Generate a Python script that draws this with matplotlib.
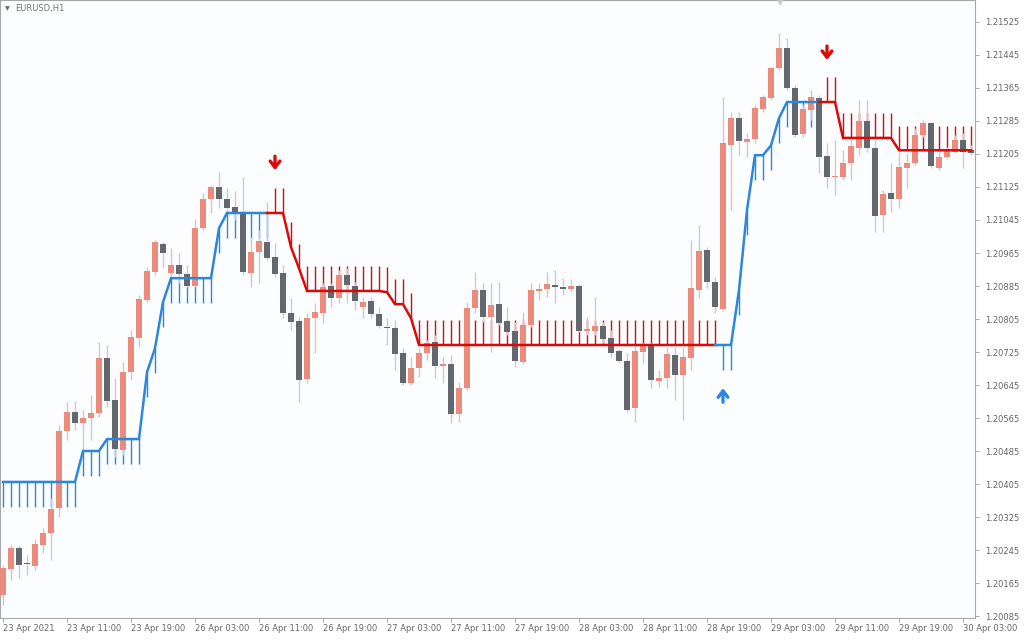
import matplotlib
matplotlib.use('Agg')
import matplotlib.pyplot as plt
import numpy as np

# EURUSD H1, 23 Apr 2021 03:00 -> 30 Apr 2021 04:00
opens = [1.20136, 1.20199, 1.20250, 1.20213, 1.20206, 1.20257, 1.20286, 1.20347, 1.20533, 1.20579,
         1.20553, 1.20565, 1.20577, 1.20710, 1.20608, 1.20487, 1.20676, 1.20759, 1.20851, 1.20919,
         1.20986, 1.20916, 1.20936, 1.20914, 1.20885, 1.21025, 1.21096, 1.21125, 1.21096, 1.21076,
         1.21062, 1.20916, 1.20967, 1.20991, 1.20955, 1.20916, 1.20819, 1.20800, 1.20659, 1.20807,
         1.20819, 1.20885, 1.20856, 1.20911, 1.20885, 1.20834, 1.20848, 1.20817, 1.20785, 1.20783,
         1.20722, 1.20650, 1.20686, 1.20722, 1.20749, 1.20691, 1.20696, 1.20574, 1.20637, 1.20831,
         1.20875, 1.20810, 1.20841, 1.20800, 1.20776, 1.20700, 1.20790, 1.20873, 1.20877, 1.20887,
         1.20882, 1.20877, 1.20885, 1.20776, 1.20776, 1.20788, 1.20759, 1.20727, 1.20703, 1.20589,
         1.20725, 1.20739, 1.20654, 1.20662, 1.20717, 1.20669, 1.20710, 1.20875, 1.20972, 1.20894,
         1.20829, 1.21226, 1.21292, 1.21234, 1.21241, 1.21314, 1.21340, 1.21413, 1.21462, 1.21365,
         1.21253, 1.21311, 1.21340, 1.21200, 1.21149, 1.21149, 1.21183, 1.21219, 1.21285, 1.21219,
         1.21057, 1.21110, 1.21096, 1.21171, 1.21183, 1.21251, 1.21280, 1.21171, 1.21197, 1.21210,
         1.21239, 1.21214]
highs = [1.20208, 1.20257, 1.20257, 1.20233, 1.20271, 1.20298, 1.20371, 1.20548, 1.20604, 1.20606,
         1.20584, 1.20620, 1.20749, 1.20742, 1.20662, 1.20700, 1.20778, 1.20863, 1.20931, 1.20996,
         1.20991, 1.20977, 1.20965, 1.20936, 1.21047, 1.21110, 1.21130, 1.21161, 1.21122, 1.21115,
         1.21149, 1.21003, 1.21020, 1.21088, 1.20989, 1.20936, 1.20856, 1.20810, 1.20819, 1.20843,
         1.20892, 1.20892, 1.20923, 1.20928, 1.20894, 1.20858, 1.20858, 1.20834, 1.20807, 1.20802,
         1.20734, 1.20713, 1.20734, 1.20754, 1.20766, 1.20713, 1.20717, 1.20652, 1.20846, 1.20919,
         1.20892, 1.20892, 1.20894, 1.20834, 1.20797, 1.20822, 1.20892, 1.20892, 1.20919, 1.20923,
         1.20904, 1.20902, 1.20890, 1.20810, 1.20858, 1.20797, 1.20778, 1.20732, 1.20722, 1.20742,
         1.20747, 1.20747, 1.20681, 1.20737, 1.20737, 1.20737, 1.20996, 1.21033, 1.20979, 1.20906,
         1.21343, 1.21307, 1.21307, 1.21256, 1.21323, 1.21348, 1.21416, 1.21498, 1.21486, 1.21372,
         1.21323, 1.21360, 1.21348, 1.21231, 1.21239, 1.21214, 1.21246, 1.21336, 1.21336, 1.21239,
         1.21117, 1.21183, 1.21210, 1.21207, 1.21268, 1.21287, 1.21282, 1.21214, 1.21222, 1.21251,
         1.21256, 1.21226]
lows = [1.20111, 1.20172, 1.20177, 1.20184, 1.20196, 1.20237, 1.20220, 1.20325, 1.20511, 1.20536,
        1.20487, 1.20511, 1.20567, 1.20591, 1.20470, 1.20475, 1.20657, 1.20737, 1.20846, 1.20911,
        1.20931, 1.20906, 1.20892, 1.20882, 1.20882, 1.21020, 1.21062, 1.21074, 1.21062, 1.21045,
        1.20911, 1.20882, 1.20892, 1.20948, 1.20906, 1.20807, 1.20778, 1.20604, 1.20650, 1.20722,
        1.20795, 1.20834, 1.20843, 1.20843, 1.20826, 1.20807, 1.20807, 1.20783, 1.20742, 1.20681,
        1.20645, 1.20645, 1.20664, 1.20705, 1.20662, 1.20650, 1.20553, 1.20555, 1.20633, 1.20819,
        1.20797, 1.20725, 1.20790, 1.20766, 1.20688, 1.20696, 1.20785, 1.20851, 1.20858, 1.20843,
        1.20863, 1.20870, 1.20773, 1.20766, 1.20766, 1.20747, 1.20713, 1.20698, 1.20579, 1.20555,
        1.20698, 1.20637, 1.20640, 1.20637, 1.20608, 1.20560, 1.20681, 1.20856, 1.20880, 1.20819,
        1.20824, 1.21069, 1.21202, 1.21197, 1.21231, 1.21307, 1.21336, 1.21408, 1.21360, 1.21246,
        1.21246, 1.21287, 1.21159, 1.21122, 1.21105, 1.21142, 1.21142, 1.21202, 1.21210, 1.21016,
        1.21016, 1.21064, 1.21074, 1.21122, 1.21178, 1.21246, 1.21171, 1.21166, 1.21193, 1.21207,
        1.21171, 1.21202]
closes = [1.20201, 1.20250, 1.20208, 1.20211, 1.20259, 1.20286, 1.20344, 1.20533, 1.20579, 1.20553,
          1.20565, 1.20577, 1.20710, 1.20606, 1.20490, 1.20676, 1.20761, 1.20853, 1.20921, 1.20991,
          1.20965, 1.20936, 1.20914, 1.20885, 1.21025, 1.21096, 1.21125, 1.21096, 1.21074, 1.21064,
          1.20919, 1.20967, 1.20994, 1.20953, 1.20914, 1.20819, 1.20797, 1.20657, 1.20807, 1.20822,
          1.20882, 1.20856, 1.20911, 1.20887, 1.20848, 1.20846, 1.20817, 1.20788, 1.20783, 1.20720,
          1.20650, 1.20686, 1.20722, 1.20747, 1.20691, 1.20696, 1.20574, 1.20637, 1.20831, 1.20875,
          1.20810, 1.20839, 1.20795, 1.20773, 1.20703, 1.20790, 1.20875, 1.20877, 1.20890, 1.20882,
          1.20877, 1.20885, 1.20776, 1.20780, 1.20788, 1.20756, 1.20722, 1.20703, 1.20584, 1.20727,
          1.20739, 1.20657, 1.20662, 1.20720, 1.20669, 1.20713, 1.20880, 1.20970, 1.20894, 1.20834,
          1.21231, 1.21292, 1.21236, 1.21241, 1.21316, 1.21343, 1.21413, 1.21462, 1.21365, 1.21251,
          1.21314, 1.21343, 1.21197, 1.21149, 1.21151, 1.21183, 1.21224, 1.21285, 1.21219, 1.21054,
          1.21108, 1.21096, 1.21173, 1.21183, 1.21251, 1.21280, 1.21176, 1.21197, 1.21212, 1.21239,
          1.21210, 1.21207]

# trend line (step indicator) and its direction, 1 = up (blue), 0 = down (red)
trend = [1.20410, 1.20410, 1.20410, 1.20410, 1.20410, 1.20410, 1.20410, 1.20410, 1.20410, 1.20410,
         1.20485, 1.20485, 1.20485, 1.20514, 1.20514, 1.20514, 1.20514, 1.20514, 1.20676, 1.20734,
         1.20846, 1.20904, 1.20904, 1.20904, 1.20904, 1.20904, 1.20904, 1.21025, 1.21062, 1.21062,
         1.21062, 1.21062, 1.21062, 1.21062, 1.21062, 1.21062, 1.20979, 1.20928, 1.20873, 1.20873,
         1.20873, 1.20873, 1.20873, 1.20873, 1.20873, 1.20873, 1.20873, 1.20873, 1.20870, 1.20841,
         1.20841, 1.20807, 1.20742, 1.20742, 1.20742, 1.20742, 1.20742, 1.20742, 1.20742, 1.20742,
         1.20742, 1.20742, 1.20742, 1.20742, 1.20742, 1.20742, 1.20742, 1.20742, 1.20742, 1.20742,
         1.20742, 1.20742, 1.20742, 1.20742, 1.20742, 1.20742, 1.20742, 1.20742, 1.20742, 1.20742,
         1.20742, 1.20742, 1.20742, 1.20742, 1.20742, 1.20742, 1.20742, 1.20742, 1.20742, 1.20742,
         1.20742, 1.20742, 1.20875, 1.21069, 1.21202, 1.21202, 1.21226, 1.21292, 1.21331, 1.21331,
         1.21331, 1.21331, 1.21331, 1.21331, 1.21331, 1.21244, 1.21244, 1.21244, 1.21244, 1.21244,
         1.21244, 1.21244, 1.21214, 1.21214, 1.21214, 1.21214, 1.21214, 1.21214, 1.21214, 1.21214,
         1.21214, 1.21214]
trend_up = [1] * 34 + [0] * 56 + [1] * 13 + [0] * 19
tick_len = 0.0006

# signal arrows: bar, tip price, direction
sig_bars = [34, 90, 103]
sig_price = [1.21166, 1.20637, 1.21433]
sig_up = [0, 1, 0]

time_labels = ['23 Apr 2021', '23 Apr 11:00', '23 Apr 19:00', '26 Apr 03:00', '26 Apr 11:00',
               '26 Apr 19:00', '27 Apr 03:00', '27 Apr 11:00', '27 Apr 19:00', '28 Apr 03:00',
               '28 Apr 11:00', '28 Apr 19:00', '29 Apr 03:00', '29 Apr 11:00', '29 Apr 19:00',
               '30 Apr 03:00']
price_ticks = [1.20085, 1.20165, 1.20245, 1.20325, 1.20405, 1.20485, 1.20565, 1.20645, 1.20725,
               1.20805, 1.20885, 1.20965, 1.21045, 1.21125, 1.21205, 1.21285, 1.21365, 1.21445,
               1.21525]

# colores
bull_col = '#EC8A7C'
bear_col = '#63676E'
wick_col = '#C6CBD3'
up_col = '#2B86E0'
dn_col = '#DD0808'

o = np.array(opens)
h = np.array(highs)
l = np.array(lows)
c = np.array(closes)
x = np.arange(len(o))
tr = np.array(trend)
up = np.array(trend_up)

fig = plt.figure(figsize=(10.24, 6.4), dpi=100)
fig.patch.set_facecolor('white')
ax = fig.add_axes([0, 22 / 640, 975 / 1024, 618 / 640])
ax.set_facecolor('#FCFDFF')

# hatch ticks of the indicator (under the candles)
ax.vlines(x[up == 1], tr[up == 1] - tick_len, tr[up == 1], color=up_col, lw=1.0, zorder=1)
ax.vlines(x[up == 0], tr[up == 0], tr[up == 0] + tick_len, color=dn_col, lw=1.0, zorder=1)

# candles
ax.vlines(x, l, h, color=wick_col, lw=1.0, zorder=2)
bull = c >= o
body_lo = np.minimum(o, c)
body_h = np.maximum(np.abs(c - o), 0.00003)
ax.bar(x[bull], body_h[bull], bottom=body_lo[bull], width=0.78, color=bull_col, zorder=3)
ax.bar(x[~bull], body_h[~bull], bottom=body_lo[~bull], width=0.78, color=bear_col, zorder=3)

# trend line, each run joined to the bar before it
start = 0
for i in range(1, len(up) + 1):
    if i == len(up) or up[i] != up[start]:
        s = max(start - 1, 0)
        ax.plot(x[s:i], tr[s:i], color=up_col if up[start] else dn_col, lw=1.8, zorder=4,
                solid_joinstyle='miter')
        start = i

# arrows
for b, p, u in zip(sig_bars, sig_price, sig_up):
    col = up_col if u else dn_col
    ax.annotate('', xy=(b, p), xytext=(0, -10 if u else 10), textcoords='offset points',
                arrowprops=dict(arrowstyle='->, head_length=0.45, head_width=0.35',
                                color=col, lw=2.4, mutation_scale=10, shrinkA=0, shrinkB=0),
                zorder=5)

ax.set_xlim(-0.375, 121.5)
ax.set_ylim(1.200802, 1.215783)

ax.set_xticks(x[::8][:len(time_labels)])
ax.set_xticklabels(time_labels)
for lab in ax.get_xticklabels():
    lab.set_ha('left')
ax.tick_params(axis='x', length=3, width=0.6, color='#999999', pad=1.5,
               labelsize=6, labelcolor='#666666')

ax.yaxis.tick_right()
ax.set_yticks(price_ticks)
ax.set_yticklabels(['%.5f' % p for p in price_ticks])
ax.tick_params(axis='y', length=3, width=0.6, color='#999999', pad=4,
               labelsize=6, labelcolor='#666666')

for sp in ax.spines.values():
    sp.set_color('#A8A8A8')
    sp.set_linewidth(0.8)

fig.text(5 / 1024, 1 - 9 / 640, '\u25BC', fontsize=4.5, color='#666666', va='center')
fig.text(15 / 1024, 1 - 9 / 640, 'EURUSD,H1', fontsize=6, color='#777777', va='center')
fig.text(780 / 1024, 1 - 3 / 640, '\u25BC', fontsize=6, color='#C8C8C8', va='center', ha='center')

fig.savefig('out.png', dpi=100, facecolor=fig.get_facecolor())
